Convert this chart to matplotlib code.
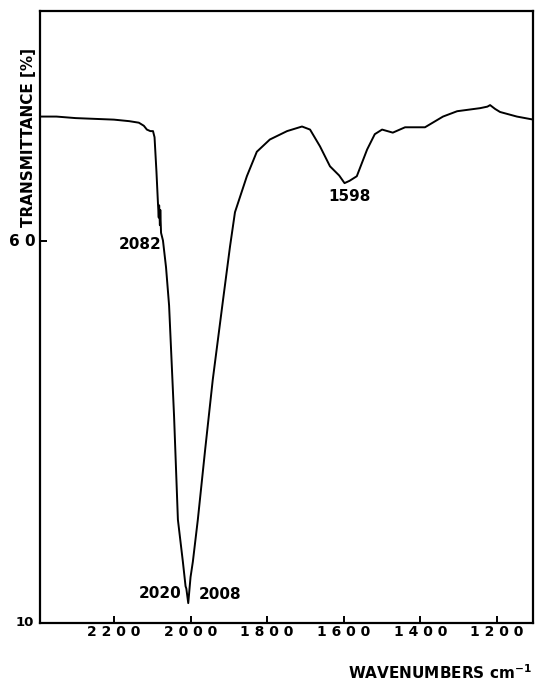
import matplotlib.pyplot as plt

# IR spectrum
wavenumber = [2393, 2350, 2300, 2250, 2200, 2160, 2135, 2122, 2114, 2105, 2098,
              2094, 2089, 2085, 2083, 2082, 2080, 2079, 2077, 2072, 2064, 2056,
              2043, 2033, 2020, 2013, 2011, 2006, 2000, 1994, 1981, 1962, 1942,
              1915, 1897, 1884, 1853, 1827, 1793, 1748, 1709, 1688, 1662, 1636,
              1612, 1598, 1585, 1566, 1539, 1519, 1500, 1472, 1440, 1388, 1341,
              1304, 1244, 1225, 1218, 1205, 1192, 1148, 1105]
transmittance = [76.2, 76.2, 76.0, 75.9, 75.8, 75.6, 75.4, 75.0, 74.5, 74.3, 74.3,
                 73.5, 69.0, 64.8, 63.0, 64.6, 62.0, 64.0, 61.0, 60.0, 56.5, 51.5,
                 37.0, 23.5, 18.0, 14.8, 14.5, 12.6, 16.0, 18.0, 23.5, 32.6, 41.8,
                 52.3, 59.2, 63.7, 68.4, 71.6, 73.2, 74.3, 74.9, 74.5, 72.3, 69.7,
                 68.5, 67.5, 67.8, 68.4, 71.9, 73.9, 74.5, 74.1, 74.8, 74.8, 76.2,
                 76.9, 77.3, 77.5, 77.7, 77.2, 76.8, 76.2, 75.8]

peak_labels = ["2082", "1598", "2020", "2008"]
peak_label_pos = [(2132, 59.5), (1586, 65.8), (2080, 13.8), (1923, 13.7)]

x_ticks = [2200, 2000, 1800, 1600, 1400, 1200]
x_tick_labels = ["2 2 0 0", "2 0 0 0", "1 8 0 0", "1 6 0 0", "1 4 0 0", "1 2 0 0"]

fig = plt.figure(figsize=(5.35, 6.81), dpi=100)
ax = fig.add_axes([40 / 535, 1 - 623 / 681, 493 / 535, 612 / 681])

ax.plot(wavenumber, transmittance, color='black', linewidth=1.4)

ax.set_xlim(2393, 1106)
ax.set_ylim(10, 90)

ax.set_xticks(x_ticks)
ax.set_xticklabels(x_tick_labels, fontsize=10, fontweight='bold')
ax.set_yticks([60])
ax.set_yticklabels(["6 0"], fontsize=11, fontweight='bold')
ax.tick_params(direction='in', length=5, width=1.4)
ax.tick_params(axis='x', pad=1.5)
ax.tick_params(axis='y', pad=3)

for s in ax.spines.values():
    s.set_linewidth(1.6)

# the "10" at the bottom corner
ax.text(-0.012, 0.0, "10", transform=ax.transAxes, ha='right', va='center',
        fontsize=9.5, fontweight='bold')

for lab, (px, py) in zip(peak_labels, peak_label_pos):
    ax.text(px, py, lab, ha='center', va='center', fontsize=11, fontweight='bold')

ax.set_ylabel("TRANSMITTANCE [%]", fontsize=11, fontweight='bold', labelpad=0)
ax.yaxis.set_label_coords(-0.008, 0.794)

fig.text(532 / 535, 1 - 673 / 681, r"WAVENUMBERS cm$^{\mathbf{-1}}$",
         ha='right', va='center', fontsize=11, fontweight='bold')

fig.savefig("out.png", dpi=100)
